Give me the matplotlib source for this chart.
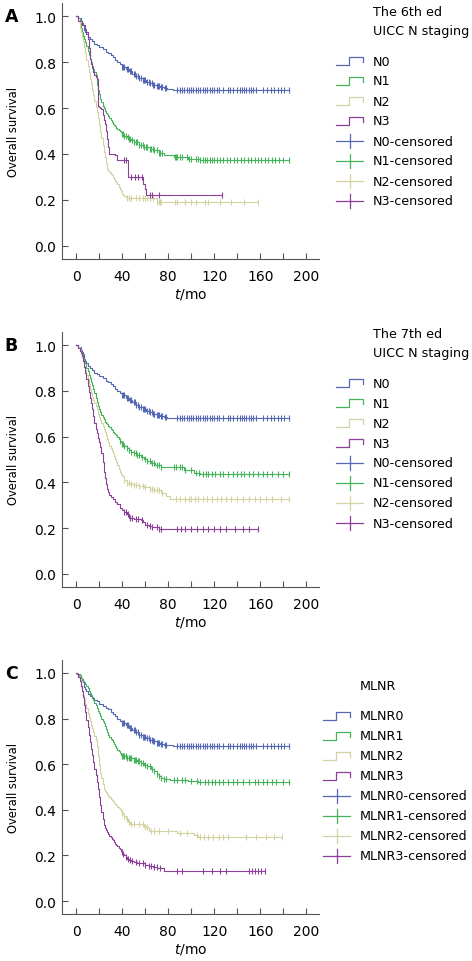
import numpy as np
import matplotlib
matplotlib.use("Agg")
import matplotlib.pyplot as plt
from matplotlib.lines import Line2D

# ---------------- data ----------------
# N0 / MLNR0 (identical curve in all three panels)
n0_t = [0, 2, 4, 5, 6, 7, 8, 9, 10, 12, 14, 16, 18, 20, 23, 26, 28, 30, 32, 34, 36, 38, 40,
        43, 46, 49, 52, 55, 58, 61, 64, 67, 70, 73, 76, 79, 84]
n0_s = [1.0, 0.99, 0.98, 0.97, 0.96, 0.94, 0.93, 0.92, 0.91, 0.90, 0.89, 0.88, 0.875, 0.865,
        0.855, 0.845, 0.84, 0.83, 0.82, 0.81, 0.80, 0.79, 0.78, 0.77, 0.76, 0.75, 0.74, 0.73,
        0.72, 0.713, 0.707, 0.70, 0.695, 0.69, 0.686, 0.683, 0.68]
n0_c = [40, 41, 42, 44, 45, 47, 48, 50, 51, 52, 54, 55, 56, 58, 59, 60, 62, 63, 64, 66, 67, 68,
        70, 71, 72, 74, 75, 77, 78, 88, 90, 92, 94, 96, 98, 100, 102, 104, 106, 108, 110, 112,
        114, 116, 118, 120, 122, 124, 128, 132, 134, 136, 140, 142, 144, 146, 148, 150, 152,
        154, 156, 162, 166, 169, 172, 175, 178, 181, 185]

# Panel A : 6th ed UICC N staging
a_n1_t = [0, 2, 3, 4, 5, 6, 7, 8, 9, 10, 11, 12, 13, 14, 15, 16, 17, 18, 19, 20, 21, 22, 23,
          24, 25, 26, 27, 28, 29, 30, 31, 32, 33, 34, 35, 36, 37, 38, 39, 40, 42, 44, 46, 48,
          50, 55, 59, 64, 68, 72, 76, 85, 97, 108]
a_n1_s = [1.0, 0.99, 0.97, 0.95, 0.93, 0.915, 0.90, 0.887, 0.87, 0.85, 0.83, 0.814, 0.80,
          0.785, 0.77, 0.755, 0.742, 0.70, 0.68, 0.66, 0.64, 0.625, 0.61, 0.598, 0.588, 0.58,
          0.573, 0.565, 0.556, 0.548, 0.54, 0.532, 0.525, 0.52, 0.515, 0.51, 0.505, 0.50, 0.494,
          0.488, 0.48, 0.473, 0.466, 0.459, 0.452, 0.44, 0.43, 0.422, 0.416, 0.405, 0.394,
          0.387, 0.38, 0.372]
a_n1_c = [40, 41, 42, 43, 45, 46, 47, 49, 50, 52, 53, 55, 56, 58, 59, 61, 62, 64, 65, 67, 68,
          70, 72, 73, 75, 86, 87, 88, 90, 92, 96, 98, 100, 104, 106, 108, 110, 112, 114, 116,
          118, 120, 122, 125, 128, 131, 134, 137, 140, 143, 146, 149, 152, 155, 158, 161, 164,
          167, 170, 173, 176, 180, 185]

a_n2_t = [0, 2, 3, 4, 5, 6, 7, 8, 9, 10, 11, 12, 13, 14, 15, 16, 17, 18, 19, 20, 21, 22, 23,
          24, 25, 26, 27, 28, 29, 30, 31, 32, 33, 34, 35, 36, 37, 38, 39, 40, 41, 42, 43, 44,
          70]
a_n2_s = [1.0, 0.98, 0.95, 0.93, 0.91, 0.89, 0.865, 0.84, 0.81, 0.785, 0.755, 0.727, 0.705,
          0.68, 0.655, 0.63, 0.605, 0.583, 0.555, 0.525, 0.496, 0.468, 0.438, 0.409, 0.385,
          0.36, 0.336, 0.328, 0.32, 0.313, 0.307, 0.30, 0.292, 0.284, 0.276, 0.268, 0.258,
          0.248, 0.238, 0.228, 0.222, 0.217, 0.213, 0.21, 0.19]
a_n2_c = [44, 46, 48, 52, 55, 58, 60, 62, 64, 67, 70, 72, 73, 74, 86, 88, 95, 100, 104, 112,
          115, 125, 135, 146, 158]

a_n3_t = [0, 2, 5, 8, 9, 10, 11, 12, 13, 14, 15, 16, 17, 18, 19, 20, 21, 22, 23, 24, 25, 26,
          27, 28, 29, 34, 36, 45, 58, 59.5, 60.5]
a_n3_s = [1.0, 0.98, 0.96, 0.945, 0.93, 0.90, 0.86, 0.814, 0.79, 0.775, 0.757, 0.745, 0.735,
          0.727, 0.61, 0.605, 0.60, 0.597, 0.57, 0.55, 0.53, 0.50, 0.467, 0.43, 0.40, 0.394,
          0.372, 0.30, 0.271, 0.249, 0.22]
a_n3_c = [42, 43, 48, 51, 54, 57, 64, 66, 72, 127]

# Panel B : 7th ed UICC N staging
b_n1_t = [0, 2, 3, 4, 5, 6, 7, 8, 9, 10, 11, 12, 13, 14, 15, 16, 17, 18, 19, 20, 21, 22, 23,
          24, 25, 26, 27, 28, 29, 30, 31, 32, 33, 34, 35, 36, 37, 38, 39, 40, 42, 44, 46, 48,
          50, 53, 56, 59, 62, 65, 69, 73.5, 94, 102.6, 108]
b_n1_s = [1.0, 0.99, 0.98, 0.97, 0.96, 0.945, 0.93, 0.92, 0.90, 0.885, 0.87, 0.855, 0.84,
          0.825, 0.81, 0.79, 0.77, 0.75, 0.735, 0.72, 0.706, 0.696, 0.686, 0.676, 0.666, 0.66,
          0.653, 0.646, 0.64, 0.632, 0.627, 0.622, 0.617, 0.612, 0.605, 0.597, 0.59, 0.583,
          0.576, 0.569, 0.56, 0.55, 0.54, 0.533, 0.527, 0.518, 0.512, 0.504, 0.495, 0.485,
          0.475, 0.467, 0.453, 0.443, 0.438]
b_n1_c = [38, 40, 41, 42, 44, 46, 48, 50, 52, 53, 55, 57, 60, 62, 64, 66, 68, 70, 72, 74, 85,
          87, 90, 92, 95, 100, 104, 107, 110, 113, 115, 118, 121, 125, 128, 132, 136, 140, 143,
          146, 150, 154, 158, 162, 166, 170, 175, 180, 185]

b_n2_t = [0, 2, 3, 4, 5, 6, 7, 8, 9, 10, 11, 12, 13, 14, 15, 16, 17, 18, 19, 20, 21, 22, 23,
          24, 25, 26, 27, 28, 29, 30, 31, 32, 33, 34, 35, 36, 37, 38, 39, 40, 42, 44, 47, 50,
          55, 59, 64, 68, 73.5, 78, 82]
b_n2_s = [1.0, 0.99, 0.98, 0.96, 0.945, 0.93, 0.91, 0.89, 0.87, 0.851, 0.83, 0.81, 0.79,
          0.775, 0.76, 0.745, 0.733, 0.72, 0.70, 0.685, 0.672, 0.66, 0.645, 0.632, 0.619,
          0.605, 0.59, 0.575, 0.561, 0.55, 0.538, 0.527, 0.515, 0.504, 0.49, 0.475, 0.46,
          0.446, 0.436, 0.426, 0.41, 0.398, 0.392, 0.388, 0.384, 0.38, 0.372, 0.366, 0.352,
          0.34, 0.328]
b_n2_c = [42, 44, 46, 48, 50, 52, 55, 58, 60, 64, 66, 68, 70, 72, 75, 87, 90, 95, 98, 100,
          103, 106, 110, 114, 118, 122, 126, 130, 135, 140, 145, 150, 155, 160, 165, 170, 178,
          185]

b_n3_t = [0, 2, 3, 4, 5, 6, 7, 8, 9, 10, 11, 12, 13, 14, 15, 16, 17, 18, 19, 20, 21, 22, 23,
          24, 25, 26, 27, 28, 29, 30, 32, 34, 36, 38, 40, 42, 44, 46, 50, 56, 58, 60.3, 63, 66,
          72]
b_n3_s = [1.0, 0.988, 0.975, 0.965, 0.952, 0.93, 0.905, 0.88, 0.85, 0.82, 0.793, 0.77,
          0.745, 0.72, 0.69, 0.66, 0.634, 0.615, 0.595, 0.576, 0.555, 0.53, 0.49, 0.446, 0.42,
          0.395, 0.373, 0.36, 0.347, 0.337, 0.326, 0.315, 0.305, 0.29, 0.28, 0.272, 0.262,
          0.243, 0.24, 0.236, 0.225, 0.214, 0.21, 0.207, 0.197]
b_n3_c = [42, 43, 45, 47, 49, 52, 54, 57, 62, 64, 66, 70, 72, 74, 88, 91, 95, 100, 105, 110,
          115, 120, 125, 130, 138, 145, 150, 158]

# Panel C : MLNR
c_m1_t = [0, 2, 3, 4, 5, 6, 7, 8, 9, 10, 11, 12, 13, 14, 15, 16, 17, 18, 19, 20, 21, 22, 23,
          24, 25, 26, 27, 28, 29, 30, 31, 32, 33, 34, 35, 36, 37, 38, 39, 40, 44, 50, 53, 56,
          59, 62, 65, 67.6, 70, 72, 74, 76, 82, 97, 105.5]
c_m1_s = [1.0, 0.995, 0.99, 0.98, 0.974, 0.967, 0.96, 0.952, 0.943, 0.933, 0.923, 0.913,
          0.903, 0.893, 0.882, 0.87, 0.858, 0.847, 0.835, 0.823, 0.812, 0.80, 0.79, 0.779,
          0.766, 0.753, 0.74, 0.728, 0.72, 0.712, 0.704, 0.696, 0.688, 0.68, 0.672, 0.664,
          0.656, 0.648, 0.641, 0.634, 0.627, 0.617, 0.612, 0.605, 0.598, 0.591, 0.58, 0.569,
          0.558, 0.548, 0.541, 0.536, 0.53, 0.526, 0.522]
c_m1_c = [40, 41, 42, 43, 44, 46, 47, 48, 50, 51, 52, 54, 55, 56, 58, 60, 62, 64, 66, 68, 70,
          72, 74, 76, 78, 85, 88, 92, 95, 100, 105, 108, 112, 115, 118, 121, 124, 128, 132,
          136, 140, 145, 150, 155, 158, 162, 166, 170, 174, 180, 185]

c_m2_t = [0, 2, 3, 4, 5, 6, 7, 8, 9, 10, 11, 12, 13, 14, 15, 16, 17, 18, 19, 20, 21, 22, 23,
          24, 25, 26, 27, 28, 29, 30, 31, 32, 33, 34, 35, 36, 37, 38, 39, 40, 41, 42, 43, 45,
          47, 59, 63, 70.6, 88, 102.6, 105.5]
c_m2_s = [1.0, 0.985, 0.97, 0.945, 0.923, 0.905, 0.885, 0.866, 0.845, 0.825, 0.808, 0.79,
          0.773, 0.757, 0.74, 0.723, 0.707, 0.68, 0.634, 0.598, 0.562, 0.538, 0.514, 0.49,
          0.483, 0.476, 0.469, 0.461, 0.455, 0.449, 0.443, 0.437, 0.432, 0.426, 0.42, 0.414,
          0.408, 0.402, 0.396, 0.388, 0.38, 0.372, 0.36, 0.348, 0.338, 0.324, 0.309, 0.305,
          0.299, 0.288, 0.282]
c_m2_c = [40, 42, 44, 46, 48, 50, 55, 58, 60, 62, 65, 68, 72, 80, 90, 96, 105, 108, 111, 115,
          119, 124, 128, 132, 148, 156, 165, 172, 179]

c_m3_t = [0, 1, 2, 3, 4, 5, 6, 7, 8, 9, 10, 11, 12, 13, 14, 15, 16, 17, 18, 19, 20, 21, 22,
          23, 24, 25, 26, 27, 28, 29, 30, 31, 32, 33, 34, 35, 36, 37, 38, 39, 40, 41, 42, 43,
          44, 46, 48, 50, 53, 56, 60, 63, 67, 70.6, 76]
c_m3_s = [1.0, 0.995, 0.981, 0.965, 0.945, 0.92, 0.893, 0.86, 0.827, 0.795, 0.762, 0.73,
          0.698, 0.668, 0.64, 0.61, 0.58, 0.552, 0.523, 0.49, 0.455, 0.42, 0.39, 0.36, 0.335,
          0.322, 0.31, 0.302, 0.294, 0.287, 0.28, 0.273, 0.266, 0.259, 0.252, 0.246, 0.24,
          0.234, 0.227, 0.221, 0.215, 0.208, 0.201, 0.194, 0.186, 0.181, 0.176, 0.172, 0.168,
          0.165, 0.159, 0.153, 0.149, 0.146, 0.133]
c_m3_c = [40, 41, 43, 45, 47, 49, 52, 55, 58, 60, 63, 65, 68, 70, 73, 88, 92, 110, 118, 125,
          130, 150, 153, 155, 158, 161, 164]

x_ticks = [0, 40, 80, 120, 160, 200]
y_ticks = [0.0, 0.2, 0.4, 0.6, 0.8, 1.0]

colors = ['#5568b3', '#45b35a', '#d4d1a2', '#8a3f98']

panels = [
    dict(letter='A', title=['The 6th ed', 'UICC N staging'],
         names=['N0', 'N1', 'N2', 'N3'],
         curves=[(n0_t, n0_s, n0_c), (a_n1_t, a_n1_s, a_n1_c),
                 (a_n2_t, a_n2_s, a_n2_c), (a_n3_t, a_n3_s, a_n3_c)],
         top=4, bottom=260, leg_title_y=12, leg_y=62, hx=336, tx=373),
    dict(letter='B', title=['The 7th ed', 'UICC N staging'],
         names=['N0', 'N1', 'N2', 'N3'],
         curves=[(n0_t, n0_s, n0_c), (b_n1_t, b_n1_s, b_n1_c),
                 (b_n2_t, b_n2_s, b_n2_c), (b_n3_t, b_n3_s, b_n3_c)],
         top=333, bottom=588, leg_title_y=334, leg_y=384, hx=336, tx=373),
    dict(letter='C', title=['MLNR'],
         names=['MLNR0', 'MLNR1', 'MLNR2', 'MLNR3'],
         curves=[(n0_t, n0_s, n0_c), (c_m1_t, c_m1_s, c_m1_c),
                 (c_m2_t, c_m2_s, c_m2_c), (c_m3_t, c_m3_s, c_m3_c)],
         top=661, bottom=915, leg_title_y=687, leg_y=717, hx=323, tx=360),
]

W, H = 472, 962
fig = plt.figure(figsize=(W / 100, H / 100), dpi=100)
plt.rcParams['font.family'] = ['DejaVu Sans']


def fx(px):
    return px / W


def fy(py):
    return 1 - py / H


AX_L, AX_R = 62, 319
spine_col = '#555555'
lw = 0.8

for p in panels:
    ax = fig.add_axes([fx(AX_L), fy(p['bottom']), fx(AX_R - AX_L), (p['bottom'] - p['top']) / H])
    ax.set_xlim(-12.2, 211)
    ax.set_ylim(-0.057, 1.057)
    for sp in ['top', 'right']:
        ax.spines[sp].set_visible(False)
    for sp in ['left', 'bottom']:
        ax.spines[sp].set_color(spine_col)
        ax.spines[sp].set_linewidth(0.8)
    ax.set_xticks(x_ticks)
    ax.set_xticks([20, 60, 100, 140, 180], minor=True)
    ax.set_yticks(y_ticks)
    ax.set_yticklabels([f'{v:.1f}' for v in y_ticks])
    ax.tick_params(axis='both', which='both', direction='in', length=4.5, width=0.8,
                   color=spine_col, labelsize=10)
    ax.tick_params(axis='x', pad=7)
    ax.tick_params(axis='y', pad=4)
    ax.patch.set_alpha(0)

    for (t, s, c), col in zip(p['curves'], colors):
        t = np.asarray(t, float)
        s = np.asarray(s, float)
        c = np.asarray(c, float)
        tt = np.append(t, c.max())
        ss = np.append(s, s[-1])
        ax.step(tt, ss, where='post', color=col, lw=lw)
        idx = np.searchsorted(t, c, side='right') - 1
        ax.plot(c, s[idx], linestyle='none', marker='|', markersize=4.5, mew=0.8, color=col)

    ax.set_xlabel('$t$/mo', fontsize=10, va='center')
    ax.xaxis.set_label_coords(0.5, -35 / (p['bottom'] - p['top']))

    mid = (p['top'] + p['bottom']) / 2
    fig.text(fx(14), fy(mid), 'Overall survival', rotation=90, ha='center', va='center',
             fontsize=8.3)
    fig.text(fx(11.5), fy(p['top'] + 13), p['letter'], ha='center', va='center',
             fontsize=12.5, fontweight='bold')

    # legend (drawn manually)
    for i, line in enumerate(p['title']):
        fig.text(fx(p['tx']), fy(p['leg_title_y'] + 20 * i), line, ha='left', va='center',
                 fontsize=9.2)
    hx0, hx1 = p['hx'], p['hx'] + 27
    labels = p['names'] + [n + '-censored' for n in p['names']]
    for k, lab in enumerate(labels):
        yc = p['leg_y'] + 20 * k
        col = colors[k % 4]
        if k < 4:
            xs = [hx0, hx0 + 13, hx0 + 13, hx1, hx1]
            ys = [yc + 4, yc + 4, yc - 4, yc - 4, yc + 1]
            fig.add_artist(Line2D([fx(v) for v in xs], [fy(v) for v in ys], color=col,
                                  lw=0.9, transform=fig.transFigure))
        else:
            fig.add_artist(Line2D([fx(hx0), fx(hx1)], [fy(yc), fy(yc)], color=col, lw=0.9,
                                  transform=fig.transFigure))
            xm = (hx0 + hx1) / 2
            fig.add_artist(Line2D([fx(xm), fx(xm)], [fy(yc - 7), fy(yc + 7)], color=col,
                                  lw=0.9, transform=fig.transFigure))
        fig.text(fx(p['tx']), fy(yc), lab, ha='left', va='center', fontsize=9.2)

fig.savefig('out.png', dpi=100)
